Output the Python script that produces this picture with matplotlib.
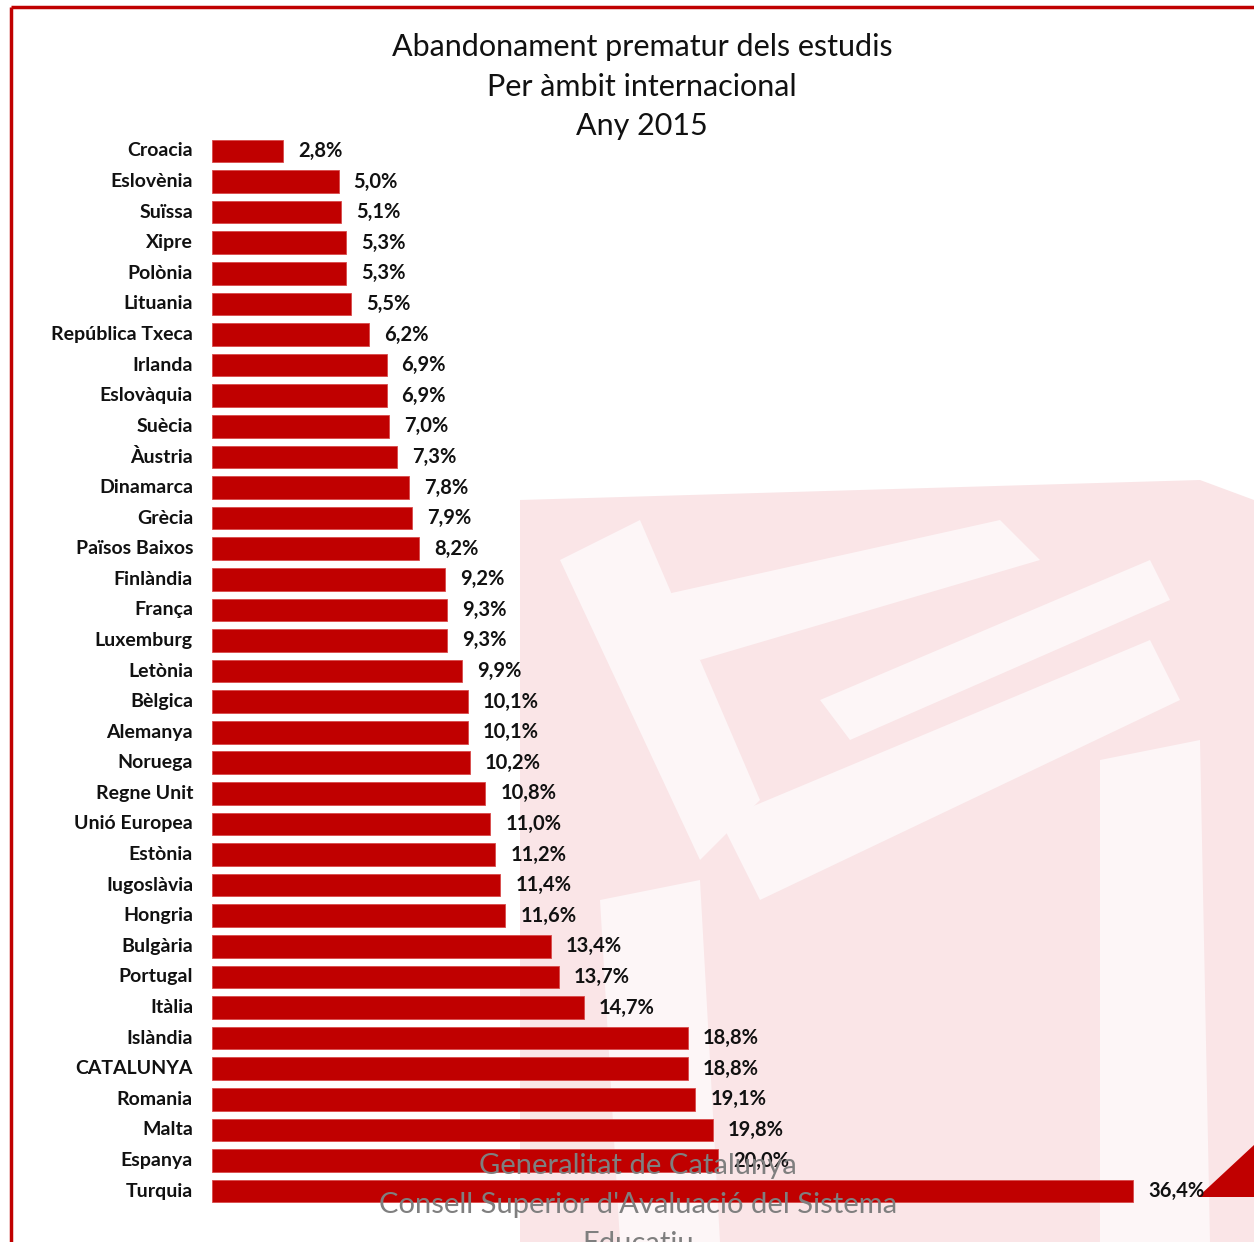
import matplotlib
matplotlib.use("Agg")
import matplotlib.pyplot as plt
from matplotlib.patches import Polygon
import matplotlib.transforms as mtransforms

countries = ["Croacia", "Eslovènia", "Suïssa", "Xipre", "Polònia", "Lituania",
             "República Txeca", "Irlanda", "Eslovàquia", "Suècia", "Àustria",
             "Dinamarca", "Grècia", "Països Baixos", "Finlàndia", "França",
             "Luxemburg", "Letònia", "Bèlgica", "Alemanya", "Noruega",
             "Regne Unit", "Unió Europea", "Estònia", "Iugoslàvia", "Hongria",
             "Bulgària", "Portugal", "Itàlia", "Islàndia", "CATALUNYA",
             "Romania", "Malta", "Espanya", "Turquia"]
values = [2.8, 5.0, 5.1, 5.3, 5.3, 5.5, 6.2, 6.9, 6.9, 7.0, 7.3, 7.8, 7.9, 8.2,
          9.2, 9.3, 9.3, 9.9, 10.1, 10.1, 10.2, 10.8, 11.0, 11.2, 11.4, 11.6,
          13.4, 13.7, 14.7, 18.8, 18.8, 19.1, 19.8, 20.0, 36.4]
title_lines = ["Abandonament prematur dels estudis", "Per àmbit internacional", "Any 2015"]
footer_lines = ["Generalitat de Catalunya", "Consell Superior d'Avaluació del Sistema", "Educatiu"]

W, H = 1254, 1242
fig = plt.figure(figsize=(W / 100, H / 100), dpi=100)
fig.patch.set_facecolor("white")

# background watermark (pixel coordinate axes)
bg = fig.add_axes([0, 0, 1, 1])
bg.set_xlim(0, W)
bg.set_ylim(H, 0)
bg.axis("off")
pink = "#fae5e7"
bg.add_patch(Polygon([(520, 500), (1200, 480), (1254, 500), (1254, 1242), (520, 1242)],
                     closed=True, fc=pink, ec="none"))
for pts in [[(560, 560), (640, 520), (760, 800), (700, 860)],
            [(640, 600), (1000, 520), (1040, 560), (700, 660)],
            [(720, 820), (1150, 640), (1180, 700), (760, 900)],
            [(1100, 760), (1200, 740), (1210, 1242), (1100, 1242)],
            [(600, 900), (700, 880), (720, 1242), (620, 1242)],
            [(820, 700), (1150, 560), (1170, 600), (850, 740)]]:
    bg.add_patch(Polygon(pts, closed=True, fc="#fdf6f7", ec="none"))
# red frame
bg.plot([11, 11], [H, 7], color="#c00000", lw=2.5, solid_capstyle="butt")
bg.plot([11, W], [7, 7], color="#c00000", lw=2.5, solid_capstyle="butt")
# corner triangle
bg.add_patch(Polygon([(1198, 1197), (1254, 1145), (1254, 1197)], closed=True,
                     fc="#c00000", ec="none"))

# main chart axes covering the figure; data coords mapped to pixels
ax = fig.add_axes([0, 0, 1, 1])
ax.patch.set_alpha(0)
x0, xs = 212.0, 25.3   # pixel of zero, pixels per percent
y0, ys = 151.0, 30.59
ax.set_xlim(-x0 / xs, (W - x0) / xs)
ax.set_ylim((H - y0) / ys, -y0 / ys)
ax.axis("off")

ypos = list(range(len(countries)))
ax.barh(ypos, values, height=0.74, color="#c00000", edgecolor="#d84a4a", linewidth=0.6)

lab_tr = mtransforms.offset_copy(ax.transData, fig=fig, x=-19, y=0, units="dots")
val_tr = mtransforms.offset_copy(ax.transData, fig=fig, x=15, y=0, units="dots")
for y, c, v in zip(ypos, countries, values):
    ax.text(0, y, c, transform=lab_tr, ha="right", va="center",
            fontsize=14, fontweight="bold", family="Lato", color="#111111")
    ax.text(v, y, f"{v:.1f}%".replace(".", ","), transform=val_tr, ha="left", va="center",
            fontsize=14.5, fontweight="bold", family="Lato", color="#111111")

for i, t in enumerate(title_lines):
    fig.text(642 / W, 1 - (47 + 39.5 * i) / H, t, ha="center", va="center",
             fontsize=22, family="Lato", color="#111111")

for i, t in enumerate(footer_lines):
    fig.text(638 / W, 1 - (1166 + 39 * i) / H, t, ha="center", va="center",
             fontsize=21, family="Lato", color="#7f7f7f")

fig.savefig("out.png", dpi=100, facecolor="white")
